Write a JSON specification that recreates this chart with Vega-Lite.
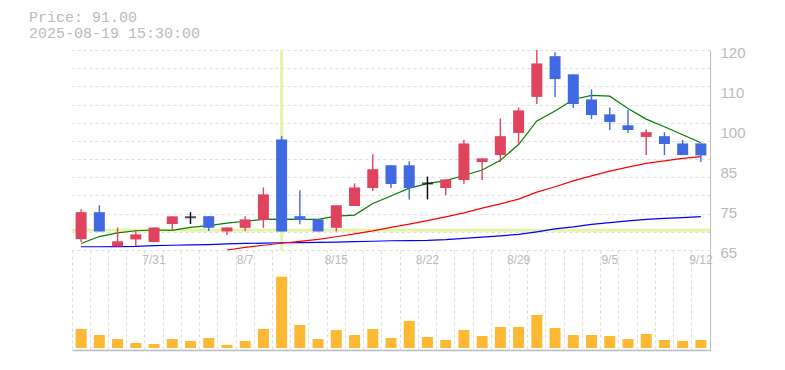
{
  "$schema": "https://vega.github.io/schema/vega-lite/v6.json",
  "padding": {"left": 29, "top": 10, "right": 5, "bottom": 5},
  "title": {"text": ["Price: 91.00", "2025-08-19 15:30:00"], "anchor": "start", "frame": "group", "font": "Liberation Mono", "fontSize": 15, "fontWeight": "normal", "color": "#bbbbbb", "lineHeight": 16, "dx": -43, "offset": 4},
  "datasets": {
    "d": [
      {"date": "2025-07-25", "open": 68.0, "high": 76.2, "low": 67.2, "close": 75.4, "vol": 19000, "ma5": 66.8, "ma25": null, "ma75": 65.9},
      {"date": "2025-07-28", "open": 75.4, "high": 77.3, "low": 70.1, "close": 70.1, "vol": 13000, "ma5": 68.7, "ma25": null, "ma75": 65.9},
      {"date": "2025-07-29", "open": 66.0, "high": 71.2, "low": 66.0, "close": 67.4, "vol": 9000, "ma5": 69.7, "ma25": null, "ma75": 65.95},
      {"date": "2025-07-30", "open": 67.9, "high": 70.4, "low": 66.0, "close": 69.3, "vol": 5000, "ma5": 70.3, "ma25": null, "ma75": 66.0},
      {"date": "2025-07-31", "open": 67.2, "high": 71.2, "low": 67.2, "close": 71.2, "vol": 4000, "ma5": 70.5, "ma25": null, "ma75": 66.2},
      {"date": "2025-08-01", "open": 72.15, "high": 74.3, "low": 70.2, "close": 74.26, "vol": 9000, "ma5": 70.4, "ma25": null, "ma75": 66.3},
      {"date": "2025-08-04", "open": 74.0, "high": 75.4, "low": 72.15, "close": 74.0, "vol": 7000, "ma5": 71.2, "ma25": null, "ma75": 66.4},
      {"date": "2025-08-05", "open": 74.3, "high": 74.3, "low": 70.2, "close": 71.1, "vol": 10000, "ma5": 71.7, "ma25": null, "ma75": 66.5},
      {"date": "2025-08-06", "open": 70.1, "high": 71.2, "low": 69.1, "close": 71.2, "vol": 3000, "ma5": 72.4, "ma25": 65.0, "ma75": 66.7},
      {"date": "2025-08-07", "open": 71.1, "high": 74.3, "low": 70.2, "close": 73.4, "vol": 7000, "ma5": 72.9, "ma25": 65.7, "ma75": 66.8},
      {"date": "2025-08-08", "open": 73.25, "high": 82.2, "low": 71.1, "close": 80.3, "vol": 19000, "ma5": 73.4, "ma25": 66.3, "ma75": 66.9},
      {"date": "2025-08-12", "open": 95.4, "high": 96.3, "low": 70.1, "close": 70.1, "vol": 71300, "ma5": 73.5, "ma25": 66.85, "ma75": 67.0},
      {"date": "2025-08-13", "open": 74.3, "high": 81.4, "low": 72.1, "close": 73.25, "vol": 23000, "ma5": 73.4, "ma25": 67.35, "ma75": 67.05},
      {"date": "2025-08-14", "open": 73.4, "high": 73.4, "low": 70.1, "close": 70.1, "vol": 9000, "ma5": 73.4, "ma25": 67.9, "ma75": 67.1},
      {"date": "2025-08-15", "open": 71.1, "high": 77.3, "low": 70.1, "close": 77.3, "vol": 18000, "ma5": 74.3, "ma25": 68.65, "ma75": 67.15},
      {"date": "2025-08-18", "open": 77.1, "high": 83.3, "low": 77.1, "close": 82.2, "vol": 13000, "ma5": 74.6, "ma25": 69.45, "ma75": 67.3},
      {"date": "2025-08-19", "open": 82.05, "high": 91.3, "low": 81.2, "close": 87.2, "vol": 19000, "ma5": 77.8, "ma25": 70.25, "ma75": 67.4},
      {"date": "2025-08-20", "open": 88.3, "high": 88.3, "low": 82.05, "close": 83.15, "vol": 10000, "ma5": 79.85, "ma25": 71.2, "ma75": 67.55},
      {"date": "2025-08-21", "open": 88.3, "high": 89.4, "low": 78.9, "close": 82.05, "vol": 27000, "ma5": 82.0, "ma25": 72.1, "ma75": 67.6},
      {"date": "2025-08-22", "open": 83.3, "high": 85.2, "low": 78.9, "close": 83.3, "vol": 11000, "ma5": 83.25, "ma25": 73.1, "ma75": 67.65},
      {"date": "2025-08-25", "open": 82.05, "high": 84.4, "low": 80.1, "close": 84.4, "vol": 8000, "ma5": 84.1, "ma25": 74.1, "ma75": 67.85},
      {"date": "2025-08-26", "open": 84.25, "high": 95.3, "low": 83.15, "close": 94.3, "vol": 18000, "ma5": 85.5, "ma25": 75.2, "ma75": 68.2},
      {"date": "2025-08-27", "open": 89.2, "high": 90.2, "low": 84.25, "close": 90.2, "vol": 12000, "ma5": 87.0, "ma25": 76.5, "ma75": 68.55},
      {"date": "2025-08-28", "open": 91.1, "high": 101.2, "low": 89.2, "close": 96.3, "vol": 21000, "ma5": 89.7, "ma25": 77.7, "ma75": 68.9},
      {"date": "2025-08-29", "open": 97.2, "high": 104.2, "low": 94.3, "close": 103.4, "vol": 21000, "ma5": 94.0, "ma25": 79.0, "ma75": 69.3},
      {"date": "2025-09-01", "open": 107.1, "high": 120.0, "low": 105.15, "close": 116.3, "vol": 33000, "ma5": 100.5, "ma25": 80.9, "ma75": 70.0},
      {"date": "2025-09-02", "open": 118.3, "high": 119.4, "low": 107.1, "close": 112.0, "vol": 20000, "ma5": 103.2, "ma25": 82.4, "ma75": 70.8},
      {"date": "2025-09-03", "open": 113.3, "high": 113.3, "low": 104.05, "close": 105.15, "vol": 13000, "ma5": 106.4, "ma25": 84.0, "ma75": 71.35},
      {"date": "2025-09-04", "open": 106.4, "high": 109.2, "low": 101.0, "close": 102.1, "vol": 13000, "ma5": 107.5, "ma25": 85.4, "ma75": 72.05},
      {"date": "2025-09-05", "open": 102.3, "high": 104.2, "low": 98.0, "close": 100.2, "vol": 12000, "ma5": 107.3, "ma25": 86.7, "ma75": 72.55},
      {"date": "2025-09-08", "open": 99.3, "high": 103.5, "low": 97.2, "close": 98.0, "vol": 9000, "ma5": 103.9, "ma25": 87.8, "ma75": 73.0},
      {"date": "2025-09-09", "open": 96.1, "high": 98.2, "low": 91.1, "close": 97.4, "vol": 14000, "ma5": 101.0, "ma25": 88.8, "ma75": 73.4},
      {"date": "2025-09-10", "open": 96.3, "high": 97.4, "low": 91.1, "close": 94.15, "vol": 8000, "ma5": 98.9, "ma25": 89.5, "ma75": 73.7},
      {"date": "2025-09-11", "open": 94.3, "high": 95.3, "low": 91.1, "close": 91.1, "vol": 7000, "ma5": 96.7, "ma25": 90.2, "ma75": 73.9},
      {"date": "2025-09-12", "open": 94.3, "high": 94.3, "low": 89.2, "close": 91.0, "vol": 8000, "ma5": 94.5, "ma25": 90.7, "ma75": 74.2}
    ]
  },
  "spacing": 0,
  "bounds": "flush",
  "vconcat": [
    {
      "width": 638,
      "height": 200,
      "data": {"name": "d"},
      "resolve": {"axis": {"y": "independent"}},
      "layer": [
        {
          "transform": [{"filter": "datum.date == '2025-08-12'"}],
          "mark": {"type": "rule", "color": "#e4f4a6", "strokeWidth": 3},
          "encoding": {
            "x": {"field": "date", "type": "ordinal", "scale": {"paddingInner": 0, "paddingOuter": 0}, "axis": null}
          }
        },
        {
          "transform": [{"filter": "datum.date == '2025-07-25'"}],
          "mark": {"type": "rule", "color": "#e4f4a6", "strokeWidth": 3},
          "encoding": {
            "y": {"datum": 70.4, "type": "quantitative", "scale": {"domain": [65, 120], "nice": false, "zero": false}, "axis": null}
          }
        },
        {
          "mark": {"type": "line", "color": "#0000ff", "strokeWidth": 1.2},
          "encoding": {
            "x": {"field": "date", "type": "ordinal", "scale": {"paddingInner": 0, "paddingOuter": 0}, "axis": null},
            "y": {"field": "ma75", "type": "quantitative", "scale": {"domain": [65, 120], "nice": false, "zero": false}, "axis": null}
          }
        },
        {
          "mark": {"type": "line", "color": "#ff0000", "strokeWidth": 1.2},
          "encoding": {
            "x": {"field": "date", "type": "ordinal", "scale": {"paddingInner": 0, "paddingOuter": 0}, "axis": null},
            "y": {"field": "ma25", "type": "quantitative", "scale": {"domain": [65, 120], "nice": false, "zero": false}, "axis": null}
          }
        },
        {
          "mark": {"type": "line", "color": "#008000", "strokeWidth": 1.2},
          "encoding": {
            "x": {"field": "date", "type": "ordinal", "scale": {"paddingInner": 0, "paddingOuter": 0}, "axis": null},
            "y": {"field": "ma5", "type": "quantitative", "scale": {"domain": [65, 120], "nice": false, "zero": false}, "axis": null}
          }
        },
        {
          "mark": {"type": "rule", "strokeWidth": 1.4},
          "encoding": {
            "x": {"field": "date", "type": "ordinal", "scale": {"paddingInner": 0, "paddingOuter": 0},
              "axis": {"orient": "bottom", "bandPosition": 0, "grid": true, "gridDash": [3, 3], "gridColor": "#dddddd", "labels": false, "ticks": false, "domain": true, "domainColor": "#bbbbbb", "title": null}},
            "y": {"field": "low", "type": "quantitative", "scale": {"domain": [65, 120], "nice": false, "zero": false},
              "axis": {"orient": "right", "values": [65, 70, 75, 80, 85, 90, 95, 100, 105, 110, 115, 120], "labels": false, "ticks": false, "grid": true, "gridDash": [3, 3], "gridColor": "#dddddd", "domain": true, "domainColor": "#bbbbbb", "title": null}},
            "y2": {"field": "high"},
            "color": {"condition": [{"test": "datum.close == datum.open", "value": "#000000"}, {"test": "datum.close > datum.open", "value": "#e0435e"}], "value": "#4169e1"}
          }
        },
        {
          "mark": {"type": "bar", "size": 11},
          "encoding": {
            "x": {"field": "date", "type": "ordinal", "scale": {"paddingInner": 0, "paddingOuter": 0}, "axis": null},
            "y": {"field": "open", "type": "quantitative", "scale": {"domain": [65, 120], "nice": false, "zero": false},
              "axis": {"orient": "right", "values": [120, 109, 98, 87, 76, 65], "labelExpr": "datum.value == 109 ? '110' : datum.value == 98 ? '100' : datum.value == 87 ? '85' : datum.value == 76 ? '75' : datum.value == 65 ? '65' : '120'", "grid": false, "ticks": false, "domain": false, "labelPadding": 10, "labelFont": "Liberation Sans", "labelFontSize": 15, "labelColor": "#bbbbbb", "labelOffset": 2, "labelOverlap": false, "title": null}},
            "y2": {"field": "close"},
            "color": {"condition": [{"test": "datum.close == datum.open", "value": "#000000"}, {"test": "datum.close > datum.open", "value": "#e0435e"}], "value": "#4169e1"}
          }
        },
        {
          "transform": [{"filter": "datum.close == datum.open"}],
          "mark": {"type": "tick", "color": "#000000", "size": 11, "thickness": 2},
          "encoding": {
            "x": {"field": "date", "type": "ordinal", "scale": {"paddingInner": 0, "paddingOuter": 0}, "axis": null},
            "y": {"field": "open", "type": "quantitative", "scale": {"domain": [65, 120], "nice": false, "zero": false}, "axis": null}
          }
        }
      ]
    },
    {
      "width": 638,
      "height": 100,
      "data": {"name": "d"},
      "mark": {"type": "bar", "size": 11, "color": "#fdb933"},
      "encoding": {
        "x": {"field": "date", "type": "ordinal", "scale": {"paddingInner": 0, "paddingOuter": 0},
          "axis": {"orient": "bottom", "bandPosition": 0, "grid": true, "gridDash": [3, 3], "gridColor": "#dddddd", "ticks": false, "domain": true, "domainColor": "#bbbbbb", "domainWidth": 1.5, "title": null,
            "labelExpr": "indexof(['2025-07-31','2025-08-07','2025-08-15','2025-08-22','2025-08-29','2025-09-05','2025-09-12'], datum.value) >= 0 ? toNumber(substring(datum.value,5,7)) + '/' + toNumber(substring(datum.value,8,10)) : ''",
            "labelAngle": 0, "labelOverlap": false, "labelOffset": 0, "labelPadding": -96, "labelBaseline": "top", "labelFont": "Liberation Sans", "labelFontSize": 12, "labelColor": "#bbbbbb"}},
        "y": {"field": "vol", "type": "quantitative", "scale": {"domain": [-2000, 98000], "nice": false, "zero": false},
          "axis": {"orient": "right", "labels": false, "ticks": false, "grid": false, "domain": true, "domainColor": "#bbbbbb", "title": null}},
        "y2": {"datum": 0}
      }
    }
  ],
  "config": {"view": {"stroke": null}}
}
